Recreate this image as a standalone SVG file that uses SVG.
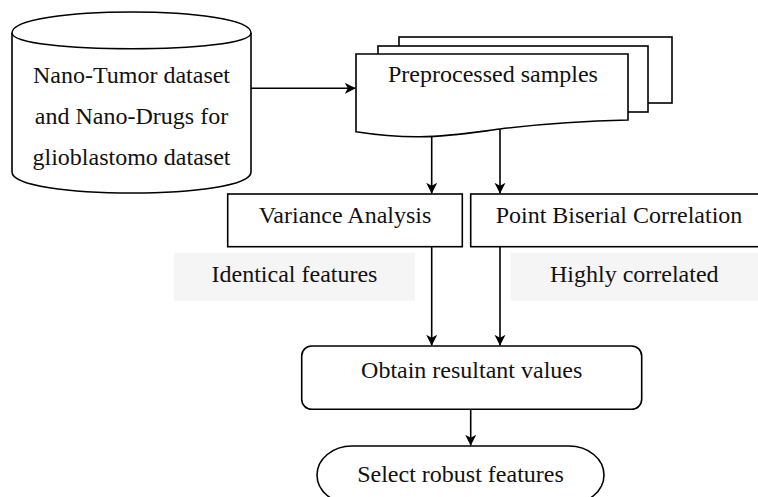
<svg xmlns="http://www.w3.org/2000/svg" width="758" height="497" viewBox="0 0 758 497">
<defs>
<style>
.s{fill:#fff;stroke:#000;stroke-width:1.6}
.t{font-family:"Liberation Serif","Times New Roman",serif;font-size:24px;fill:#111;text-anchor:middle}
.bg{fill:#f4f5f4;stroke:none}
.c{fill:none;stroke:#000;stroke-width:1.6}
</style>
<marker id="ah" markerUnits="userSpaceOnUse" markerWidth="13" markerHeight="12" refX="10.5" refY="5.5" orient="auto" viewBox="0 0 13 12">
<path d="M0,0 L11,5.5 L0,11 L3,5.5 Z" fill="#000"/>
</marker>
</defs>
<g id="dataset">
<path class="s" d="M12,33 C12,5 251,5 251,33 L251,172 C251,200 12,200 12,172 Z"/>
<path class="c" d="M12,33 C12,54 251,54 251,33"/>
<text class="t" x="131.5" y="82.7">Nano-Tumor dataset</text>
<text class="t" x="131.5" y="123.7">and Nano-Drugs for</text>
<text class="t" x="131.5" y="165">glioblastomo dataset</text>
</g>
<g id="preprocessed">
<rect class="s" x="399" y="37" width="273" height="66"/>
<rect class="s" x="378" y="46" width="270" height="66"/>
<path class="s" d="M356,54 H628 V120 C580,121 540,124 500,129 C470,133 450,136.5 420,136.7 Q390,137 356,131.7 Z"/>
<text class="t" x="493" y="81.7">Preprocessed samples</text>
</g>
<g id="variance">
<rect class="s" x="227.7" y="194" width="234.6" height="52.7"/>
<text class="t" x="345" y="223.3">Variance Analysis</text>
</g>
<g id="pointbiserial">
<rect class="s" x="470.7" y="194" width="296.3" height="52.7"/>
<text class="t" x="619" y="223.3">Point Biserial Correlation</text>
</g>
<g id="identical">
<rect class="bg" x="174" y="252.7" width="241" height="48"/>
<text class="t" x="294.5" y="281.7">Identical features</text>
</g>
<g id="highly">
<rect class="bg" x="510.7" y="252.7" width="247.3" height="48"/>
<text class="t" x="634.3" y="281.7">Highly correlated</text>
</g>
<g id="obtain">
<rect class="s" x="301.7" y="346" width="340" height="63.3" rx="10" ry="10"/>
<text class="t" x="471.7" y="378.3">Obtain resultant values</text>
</g>
<g id="select">
<rect class="s" x="317" y="446" width="287" height="58" rx="35" ry="29"/>
<text class="t" x="460.5" y="481.7">Select robust features</text>
</g>
<g id="connectors">
<path class="c" d="M251,88.3 H355.3" marker-end="url(#ah)"/>
<path class="c" d="M431.7,137 V193.3" marker-end="url(#ah)"/>
<path class="c" d="M500,129.3 V193.3" marker-end="url(#ah)"/>
<path class="c" d="M431.7,246.7 V345.3" marker-end="url(#ah)"/>
<path class="c" d="M500,246.7 V345.3" marker-end="url(#ah)"/>
<path class="c" d="M470.7,409.3 V445.3" marker-end="url(#ah)"/>
</g>
</svg>
